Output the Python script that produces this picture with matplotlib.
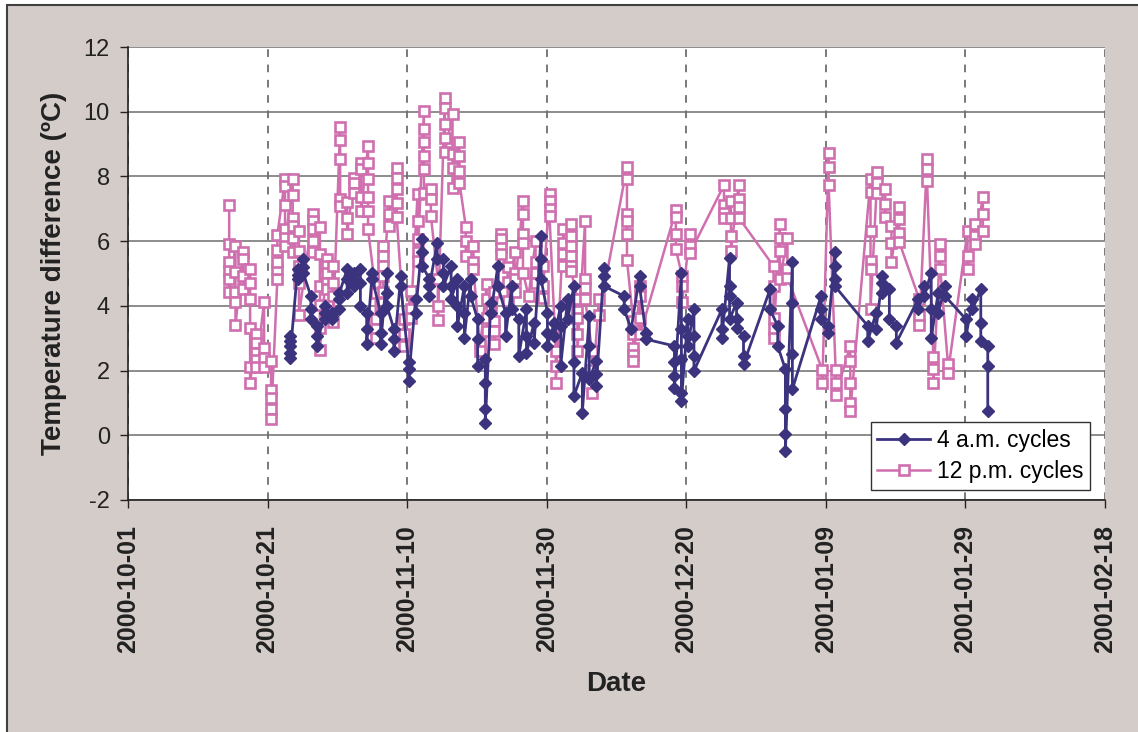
import numpy as np
import pandas as pd
import matplotlib
matplotlib.use('Agg')
import matplotlib.pyplot as plt
import matplotlib.dates as mdates
from matplotlib.patches import Rectangle

# days after 2000-10-01, one stack of readings per day
am_days = [23.2, 24.3, 25.1, 26.2, 27.1, 28.3, 29.3, 30.3, 31.4, 32.4, 33.3, 34.2,
           35.0, 36.2, 37.1, 38.1, 39.1, 40.2, 41.2, 42.2, 43.2, 44.3, 45.2, 46.3,
           47.2, 48.2, 49.1, 50.1, 51.2, 52.0, 53.0, 54.1, 55.0, 56.0, 57.1, 58.2,
           59.2, 60.1, 61.1, 62.0, 63.0, 63.9, 65.1, 66.1, 67.1, 68.2, 71.1, 72.1,
           73.3, 74.2, 78.3, 79.3, 80.2, 81.1, 85.1, 86.2, 87.2, 88.2, 92.0, 93.1,
           94.2, 95.2, 99.3, 100.3, 101.3, 106.0, 107.2, 108.1, 109.1, 110.1, 113.2,
           114.1, 115.1, 116.1, 117.1, 120.1, 121.0, 122.2, 123.2]
am_vals = [[3.07, 2.90, 2.76, 2.55, 2.40], [5.13, 4.95, 4.82], [5.44, 5.20, 5.03], [4.30, 3.90, 3.58],
           [3.38, 3.07, 2.76], [4.00, 3.79, 3.60], [3.79, 3.58, 3.70], [3.89, 4.20, 4.40],
           [5.13, 4.82, 4.41], [5.03, 4.80, 4.61], [5.13, 4.72, 4.00], [3.79, 3.30, 2.81],
           [5.03, 4.82], [3.79, 3.17, 2.81], [5.03, 4.41, 4.00], [3.28, 2.97, 2.61],
           [4.92, 4.61], [2.25, 2.04, 1.68], [4.20, 3.79], [6.06, 5.65, 5.23],
           [4.82, 4.30, 4.60], [5.95, 5.44], [5.44, 5.03, 4.61], [5.23, 4.61, 4.20],
           [4.82, 4.00, 3.38], [4.61, 3.79, 3.02], [4.82, 4.30], [3.58, 2.97, 2.14],
           [2.35, 1.63, 0.80, 0.39], [4.10, 3.79], [5.23, 4.61], [3.79, 3.07],
           [4.61, 3.89], [3.58, 2.45], [3.89, 3.07, 2.55], [3.48, 2.86],
           [6.16, 5.44, 4.82], [3.79, 3.17, 2.76], [3.48, 3.07], [4.00, 3.38, 2.14],
           [4.20, 3.58], [4.61, 2.25, 1.21], [1.94, 0.70], [3.69, 2.76, 1.73],
           [2.30, 1.88, 1.52], [5.18, 4.92, 4.61], [4.30, 3.89], [3.28],
           [4.92, 4.61], [3.17, 2.97], [2.76, 2.25, 1.83, 1.47], [5.03, 3.28, 2.35, 1.32, 1.06],
           [3.58, 3.07, 2.76], [3.89, 3.07, 2.45, 1.99], [3.89, 3.28, 3.02], [5.49, 4.61, 4.30, 3.58],
           [4.10, 3.58, 3.33], [3.07, 2.45, 2.19], [4.51, 3.89], [3.38, 2.76],
           [2.04, 0.80, 0.03, -0.48], [5.34, 4.10, 2.50, 1.42], [4.30, 3.89, 3.58], [3.38, 3.17],
           [5.65, 5.23, 4.82, 4.61], [3.38, 2.91], [3.79, 3.28], [4.92, 4.72, 4.41],
           [4.51, 3.58], [3.38, 2.86], [4.20, 3.89], [4.61, 4.30],
           [5.03, 3.89, 3.02], [4.41, 3.79], [4.61, 4.30], [3.58, 3.07],
           [4.20, 3.89], [4.51, 3.48, 2.91], [2.76, 2.14, 0.75]]

pm_days = [14.5, 15.4, 16.5, 17.5, 18.4, 19.5, 20.5, 21.4, 22.5, 23.6, 24.5, 26.5,
           27.5, 28.5, 29.4, 30.4, 31.4, 32.4, 33.4, 34.4, 35.5, 36.5, 37.4, 38.5,
           39.5, 40.5, 41.5, 42.4, 43.4, 44.4, 45.4, 46.5, 47.5, 48.4, 49.5, 50.4,
           51.4, 52.5, 53.5, 54.4, 55.4, 56.6, 57.4, 58.4, 59.4, 60.4, 61.3, 62.4,
           63.5, 64.4, 65.5, 66.5, 67.5, 71.5, 72.4, 73.4, 78.5, 79.4, 80.5, 85.4,
           86.4, 87.5, 92.5, 93.4, 94.5, 99.5, 100.4, 101.4, 103.5, 106.4, 107.4,
           108.5, 109.4, 110.5, 113.4, 114.5, 115.4, 116.4, 117.5, 120.3, 121.3, 122.5]
pm_vals = [[7.12, 5.92, 5.34, 5.08, 4.82, 4.44], [5.85, 5.04, 4.42, 4.12, 3.41],
           [5.65, 5.44, 4.92, 4.51], [5.13, 4.72, 4.22, 3.33, 2.12, 1.63],
           [3.12, 2.86, 2.55, 2.32, 2.12], [4.12, 2.71, 2.40, 2.12],
           [2.30, 1.40, 1.16, 0.80, 0.49], [4.82, 5.13, 5.36, 5.72, 6.19],
           [7.91, 7.70, 7.12, 6.37, 6.11, 5.85], [7.91, 7.42, 6.73, 6.47, 6.11, 5.65],
           [6.31, 5.70, 5.23, 4.72, 3.71], [6.85, 6.62, 6.37, 6.00, 5.65],
           [6.44, 5.59, 4.61, 4.03, 3.33, 2.64], [5.44, 5.23, 5.03, 4.72, 4.51],
           [5.23, 4.72, 4.30, 3.51], [9.53, 9.12, 8.53, 7.29, 7.09],
           [7.21, 6.73, 6.21], [7.96, 7.81, 7.50], [8.43, 8.22, 7.35, 6.93],
           [8.94, 8.43, 7.91, 7.35, 6.93, 6.37], [4.41, 3.58, 3.28, 3.02],
           [5.85, 5.54, 5.23, 4.92, 4.43], [7.24, 6.83, 6.47],
           [8.27, 7.96, 7.60, 7.19, 6.76], [3.58, 3.12, 2.76], [4.46, 3.89, 3.61],
           [7.45, 6.62, 6.06, 5.65, 5.39], [10.02, 9.46, 9.05, 8.63, 8.22, 7.50],
           [7.62, 7.29, 6.78], [4.82, 4.00, 3.56], [10.43, 10.13, 9.61, 9.20, 8.74],
           [9.92, 8.68, 8.27, 7.65], [9.05, 8.63, 8.17, 7.81], [6.45, 6.00, 5.54],
           [5.85, 5.36, 5.13], [2.84, 2.61], [4.67, 4.20, 3.64, 3.22],
           [4.43, 3.53, 3.22, 2.81], [6.21, 6.06, 5.80, 5.59], [5.21, 4.74, 4.15],
           [5.65, 5.03, 4.82, 4.43], [7.24, 6.83, 6.21, 5.95, 5.03], [4.30],
           [6.00, 5.34, 5.03, 4.72], [5.23, 4.61, 4.25], [7.45, 7.24, 6.98, 6.78],
           [2.61, 2.14, 1.63], [6.37, 5.95, 5.59, 5.23], [6.52, 6.16, 5.85, 5.54, 5.23, 5.08],
           [4.22, 3.84, 3.61, 3.12, 2.61], [6.62, 4.82, 4.56, 4.22], [2.61, 2.02, 1.32],
           [4.22, 3.71], [8.30, 7.93, 6.83, 6.62, 6.21, 5.41], [3.53, 3.12, 2.71, 2.47, 2.30],
           [4.61, 4.30, 3.61, 3.12], [6.95, 6.76, 6.21, 5.75], [4.92, 4.61, 4.12],
           [6.21, 5.85, 5.62], [7.73, 7.11, 6.88, 6.73], [7.24, 6.73, 6.16, 5.70],
           [7.73, 7.31, 7.04, 6.73], [5.23, 4.61, 3.61, 3.28, 3.02], [6.52, 6.11, 5.70, 4.82],
           [6.11, 5.13, 4.87], [2.02, 1.63], [8.71, 8.30, 7.73], [2.02, 1.61, 1.24],
           [2.76, 2.30, 1.61, 1.01, 0.75], [7.91, 7.52, 6.31, 5.39, 5.13, 3.91],
           [8.14, 7.81, 7.50], [7.62, 7.14, 6.76], [6.47, 5.95, 5.34],
           [7.04, 6.68, 6.26, 5.98], [4.20, 3.69, 3.41], [8.53, 8.22, 7.86],
           [2.43, 2.04, 1.63], [5.90, 5.54, 5.13], [2.19, 1.94], [6.31, 5.54, 5.13],
           [6.52, 6.16, 5.90], [7.35, 6.83, 6.31]]

start = pd.Timestamp('2000-10-01')
tick_days = [0, 20, 40, 60, 80, 100, 120, 140]


def flatten(days, vals):
    d, v = [], []
    for day, stack in zip(days, vals):
        d += [day] * len(stack)
        v += stack
    return start + pd.to_timedelta(np.array(d), unit='D'), np.array(v)


am_x, am_y = flatten(am_days, am_vals)
pm_x, pm_y = flatten(pm_days, pm_vals)

plt.rcParams['font.family'] = ['Liberation Sans', 'DejaVu Sans']
plt.rcParams['axes.unicode_minus'] = False

fig = plt.figure(figsize=(11.38, 7.32), dpi=100, facecolor='white')
fig.patches.append(Rectangle((7 / 1138, -0.05), 1.1, 1.05 - 5 / 732,
                             transform=fig.transFigure, facecolor='#d4ccc9',
                             edgecolor='#404040', linewidth=1.5, zorder=-10))
ax = fig.add_axes([128 / 1138, 1 - 500 / 732, (1105 - 128) / 1138, (500 - 47) / 732])
ax.set_facecolor('white')

blue = '#3b337e'
pink = '#cf6fae'
ax.plot(am_x, am_y, color=blue, lw=2, marker='D', ms=6.5, mfc=blue, mec=blue,
        label='4 a.m. cycles', zorder=3)
ax.plot(pm_x, pm_y, color=pink, lw=1.8, marker='s', ms=7.5, mfc='white', mec=pink,
        mew=1.9, label='12 p.m. cycles', zorder=2)

ax.set_ylim(-2, 12)
ax.set_yticks(range(-2, 13, 2))
ax.set_xlim(start, start + pd.Timedelta(days=140))
ax.set_xticks([start + pd.Timedelta(days=d) for d in tick_days])
ax.xaxis.set_major_formatter(mdates.DateFormatter('%Y-%m-%d'))

ax.grid(axis='y', color='#6e6e6e', lw=1.1, ls='-')
ax.grid(axis='x', color='#555555', lw=1.1, ls=(0, (5, 5)))
ax.set_axisbelow(True)
for s in ['top', 'right']:
    ax.spines[s].set_visible(False)
for s in ['left', 'bottom']:
    ax.spines[s].set_color('#222222')
    ax.spines[s].set_linewidth(1.2)

ax.tick_params(axis='y', labelsize=17, length=6, width=1, pad=7, colors='#222222')
ax.tick_params(axis='x', labelsize=18, length=6, width=1, pad=12, colors='#222222',
               labelrotation=90)
for t in ax.get_xticklabels():
    t.set_fontweight('bold')

ax.set_ylabel('Temperature difference (ºC)', fontsize=20, fontweight='bold',
              color='#222222', labelpad=12)
ax.set_xlabel('Date', fontsize=20, fontweight='bold', color='#222222', labelpad=13)

leg = ax.legend(loc='lower right', bbox_to_anchor=(0.985, 0.022), borderaxespad=0,
                fontsize=16.5, numpoints=1, fancybox=False, framealpha=1,
                edgecolor='#333333', handlelength=2.3, borderpad=0.3,
                labelspacing=0.35, handletextpad=0.3)
leg.get_frame().set_linewidth(1.0)

fig.savefig('out.png', dpi=100, facecolor=fig.get_facecolor())
